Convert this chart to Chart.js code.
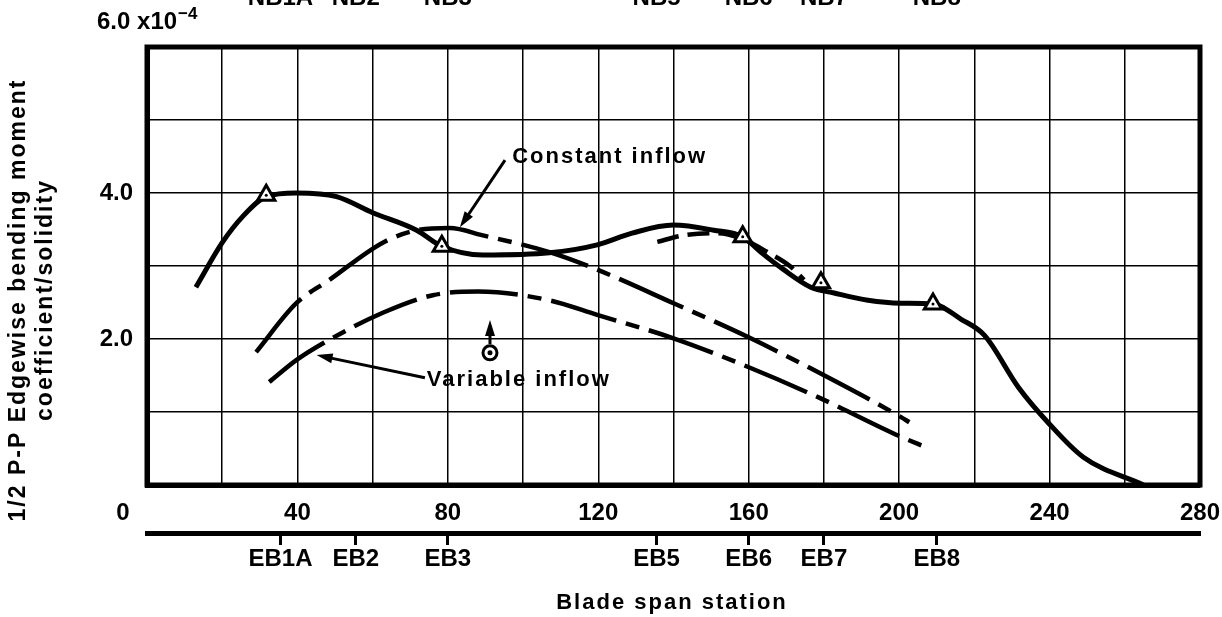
<!DOCTYPE html>
<html>
<head>
<meta charset="utf-8">
<script src="https://cdn.jsdelivr.net/npm/chart.js@4.4.0/dist/chart.umd.min.js"></script>
<style>
html, body { margin: 0; padding: 0; background: #fff; }
</style>
</head>
<body>
<canvas id="chart" width="1222" height="617"></canvas>
<script>
// Datos (estacion de la pala, coeficiente x10^-4)
var medidoX = [13, 20, 25.3, 31.7, 39.7, 50.4, 60, 71.7, 78.4, 89.3, 107, 119.7, 129, 140, 150.7, 158.4, 163.2, 169.3, 176.5, 182.7, 191.7, 200.5, 209, 216.5, 222.7, 231.7, 239.7, 249, 265];
var medidoY = [2.71, 3.32, 3.67, 3.95, 4.0, 3.95, 3.73, 3.49, 3.27, 3.15, 3.18, 3.29, 3.45, 3.56, 3.49, 3.40, 3.19, 2.95, 2.71, 2.63, 2.53, 2.49, 2.48, 2.27, 2.05, 1.34, 0.85, 0.38, 0];

var constanteX = [29, 39.7, 48.5, 62.7, 71.7, 80.5, 89.3, 107, 119.7, 140, 159.7, 179, 200.5, 202.7];
var constanteY = [1.82, 2.49, 2.81, 3.32, 3.49, 3.52, 3.42, 3.19, 2.95, 2.49, 2.03, 1.53, 0.93, 0.86];

var constante2X = [135.7, 142.7, 151.7, 157.9, 165, 171.2, 174.7];
var constante2Y = [3.33, 3.42, 3.45, 3.38, 3.19, 2.99, 2.81];

var variableX = [32.5, 39.7, 48.5, 62.7, 76, 88, 107, 119.7, 140, 159.7, 179, 200.5, 207];
var variableY = [1.41, 1.71, 1.99, 2.36, 2.60, 2.65, 2.53, 2.33, 2.01, 1.62, 1.19, 0.66, 0.52];

var triX = [31.7, 78.4, 158.4, 179.2, 209];
var triY = [3.97, 3.27, 3.40, 2.77, 2.48];

var circX = [91.2];
var circY = [1.81];

// Estaciones EB (abajo) y NB (arriba)
var ebPos = [35.5, 55.5, 80, 135.5, 160, 180, 210];
var ebNombres = ['EB1A', 'EB2', 'EB3', 'EB5', 'EB6', 'EB7', 'EB8'];
var nbNombres = ['NB1A', 'NB2', 'NB3', 'NB5', 'NB6', 'NB7', 'NB8'];

var fuente = 'Liberation Sans, Arial, sans-serif';

function puntos(xs, ys) {
    return xs.map(function (x, i) { return { x: x, y: ys[i] }; });
}

// Marco, textos y flechas
var extras = {
    id: 'extras',
    beforeDatasetsDraw: function (chart) {
        var ctx = chart.ctx, a = chart.chartArea;
        ctx.save();
        ctx.strokeStyle = '#000';
        ctx.lineWidth = 5;
        ctx.strokeRect(a.left, a.top, a.right - a.left, a.bottom - a.top);
        ctx.restore();
    },
    afterDraw: function (chart) {
        var ctx = chart.ctx, sx = chart.scales.x, sy = chart.scales.y;
        var px = function (v) { return sx.getPixelForValue(v); };
        var py = function (v) { return sy.getPixelForValue(v); };

        function flecha(x1, y1, x2, y2) {
            var ang = Math.atan2(y2 - y1, x2 - x1);
            ctx.beginPath();
            ctx.moveTo(x1, y1);
            ctx.lineTo(x2 - 10 * Math.cos(ang), y2 - 10 * Math.sin(ang));
            ctx.lineWidth = 3;
            ctx.stroke();
            ctx.beginPath();
            ctx.moveTo(x2, y2);
            ctx.lineTo(x2 - 16 * Math.cos(ang) + 5 * Math.sin(ang), y2 - 16 * Math.sin(ang) - 5 * Math.cos(ang));
            ctx.lineTo(x2 - 16 * Math.cos(ang) - 5 * Math.sin(ang), y2 - 16 * Math.sin(ang) + 5 * Math.cos(ang));
            ctx.closePath();
            ctx.fill();
        }

        ctx.save();
        ctx.fillStyle = '#000';
        ctx.strokeStyle = '#000';

        // 6.0 x10^-4
        ctx.font = 'bold 24px ' + fuente;
        ctx.textBaseline = 'middle';
        ctx.textAlign = 'left';
        ctx.fillText('6.0 x10', 97, 22);
        var w = ctx.measureText('6.0 x10').width;
        ctx.font = 'bold 17px ' + fuente;
        ctx.fillText('\u22124', 97 + w + 1, 14);

        // 0 del eje x
        ctx.font = 'bold 24px ' + fuente;
        ctx.textAlign = 'center';
        ctx.fillText('0', 123, 513);

        // NB arriba (cortadas por el borde)
        ctx.textBaseline = 'alphabetic';
        ebPos.forEach(function (v, i) {
            ctx.fillText(nbNombres[i], px(v), 5);
        });

        // Anotaciones
        ctx.letterSpacing = '2px';
        ctx.textAlign = 'left';
        ctx.textBaseline = 'middle';
        ctx.font = 'bold 22px ' + fuente;
        ctx.fillText('Constant inflow', px(97.1), py(4.49));
        ctx.fillText('Variable inflow', px(74.4), py(1.44));
        flecha(px(95.2), py(4.45), px(83.2), py(3.53));
        flecha(px(73.9), py(1.47), px(45.1), py(1.78));
        flecha(px(91.2), py(1.93), px(91.2), py(2.26));

        // Titulos de ejes
        ctx.textAlign = 'center';
        ctx.fillText('Blade span station', 672, 603);
        ctx.font = 'bold 23px ' + fuente;
        ctx.translate(0, 300);
        ctx.rotate(-Math.PI / 2);
        ctx.fillText('1/2 P-P Edgewise bending moment', 0, 19);
        ctx.fillText('coefficient/solidity', 0, 46);
        ctx.restore();
    }
};

// sin relleno extra a los lados del eje x
function sinRelleno(s) {
    s.paddingLeft = 0;
    s.paddingRight = 0;
}

var ctx = document.getElementById('chart').getContext('2d');

var chart = new Chart(ctx, {
    type: 'line',
    data: {
        datasets: [
            {
                data: puntos(triX, triY), showLine: false, order: 0,
                pointRadius: 1.5, pointBackgroundColor: '#000', pointBorderWidth: 0
            },
            {
                data: puntos(circX, circY), showLine: false, order: 0,
                pointRadius: 2.5, pointBackgroundColor: '#000', pointBorderWidth: 0
            },
            {
                data: puntos(triX, triY), showLine: false, order: 1,
                pointStyle: 'triangle', pointRadius: 10,
                pointBackgroundColor: '#fff', pointBorderColor: '#000', pointBorderWidth: 3
            },
            {
                data: puntos(circX, circY), showLine: false, order: 1,
                pointRadius: 7, pointBackgroundColor: '#fff', pointBorderColor: '#000', pointBorderWidth: 3
            },
            {
                data: puntos(medidoX, medidoY), order: 2,
                borderColor: '#000', borderWidth: 5, pointRadius: 0,
                cubicInterpolationMode: 'monotone'
            },
            {
                data: puntos(constanteX, constanteY), order: 2,
                borderColor: '#000', borderWidth: 4.5, pointRadius: 0,
                cubicInterpolationMode: 'monotone',
                borderDash: [70, 10, 14, 10]
            },
            {
                data: puntos(constante2X, constante2Y), order: 2,
                borderColor: '#000', borderWidth: 4.5, pointRadius: 0,
                cubicInterpolationMode: 'monotone',
                borderDash: [22, 9]
            },
            {
                data: puntos(variableX, variableY), order: 2,
                borderColor: '#000', borderWidth: 4.5, pointRadius: 0,
                cubicInterpolationMode: 'monotone',
                borderDash: [68, 10, 14, 10]
            }
        ]
    },
    options: {
        responsive: false,
        animation: false,
        devicePixelRatio: 1,
        layout: { padding: { top: 47, right: 22, left: 0, bottom: 0 } },
        plugins: { legend: { display: false }, tooltip: { enabled: false } },
        scales: {
            x: {
                type: 'linear', min: 0, max: 280, weight: 0,
                afterFit: function (s) { s.height = 48; sinRelleno(s); },
                grid: { color: '#000', lineWidth: 1.5, drawTicks: false },
                border: { color: '#000', width: 5 },
                ticks: {
                    stepSize: 20, autoSkip: false, maxRotation: 0, padding: 14, color: '#000',
                    font: { family: fuente, size: 24, weight: 'bold' },
                    callback: function (v) { return (v > 0 && v % 40 === 0) ? v : ''; }
                }
            },
            x2: {
                type: 'linear', position: 'bottom', min: 0, max: 280, weight: 1,
                afterFit: function (s) { s.height = 84; sinRelleno(s); },
                afterBuildTicks: function (s) { s.ticks = ebPos.map(function (v) { return { value: v }; }); },
                grid: { drawOnChartArea: false, drawTicks: true, tickLength: 12, tickWidth: 3, tickColor: '#000', color: '#000' },
                border: { color: '#000', width: 5 },
                ticks: {
                    autoSkip: false, maxRotation: 0, padding: 0, color: '#000',
                    font: { family: fuente, size: 24, weight: 'bold' },
                    callback: function (v) { return ebNombres[ebPos.indexOf(v)]; }
                }
            },
            y: {
                min: 0, max: 6,
                afterFit: function (s) { s.width = 147; },
                grid: { color: '#000', lineWidth: 1.5, drawTicks: false },
                border: { color: '#000', width: 5 },
                ticks: {
                    stepSize: 1, padding: 14, color: '#000',
                    font: { family: fuente, size: 24, weight: 'bold' },
                    callback: function (v) { return (v === 2 || v === 4) ? v.toFixed(1) : ''; }
                }
            }
        }
    },
    plugins: [extras]
});
</script>
</body>
</html>
